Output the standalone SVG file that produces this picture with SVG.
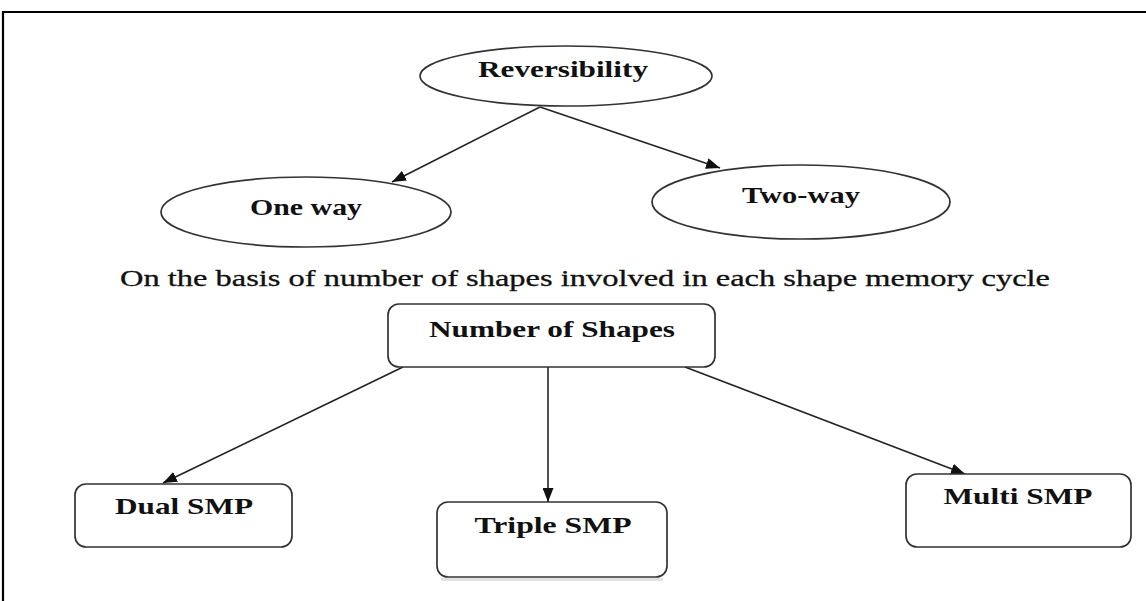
<svg xmlns="http://www.w3.org/2000/svg" width="1146" height="601" viewBox="0 0 1146 601">
  <style>
    .node { fill: #fff; stroke: #333; stroke-width: 1.7; }
    .shadow { fill: none; stroke: #e2e2e2; stroke-width: 2; }
    .lbl { font-family: "Liberation Serif", "Times New Roman", serif; font-weight: bold; font-size: 23px; fill: #111; text-anchor: middle; }
    .sub { font-family: "Liberation Serif", "Times New Roman", serif; font-size: 23px; fill: #111; stroke: #111; stroke-width: 0.3; }
    .conn { stroke: #222; stroke-width: 1.6; fill: none; marker-end: url(#arrow); }
  </style>
  <defs>
    <marker id="arrow" viewBox="0 0 14 11" refX="14" refY="5.5" markerWidth="14" markerHeight="11" markerUnits="userSpaceOnUse" orient="auto">
      <path d="M0,0 L14,5.5 L0,11 Z" fill="#111"/>
    </marker>
  </defs>
  <rect x="0" y="0" width="1146" height="601" fill="#fff"/>
  <path d="M3,601 L3,12 L1146,12" fill="none" stroke="#000" stroke-width="2.2"/>

  <g id="connectors">
    <line class="conn" x1="540" y1="107" x2="392" y2="182"/>
    <line class="conn" x1="540" y1="107" x2="720" y2="168"/>
    <line class="conn" x1="403" y1="367" x2="163" y2="483"/>
    <line class="conn" x1="548" y1="367" x2="548" y2="502"/>
    <line class="conn" x1="685" y1="367" x2="965" y2="474"/>
  </g>

  <g id="reversibility">
    <ellipse class="node" cx="566" cy="76" rx="146" ry="30"/>
    <text class="lbl" x="563" y="77" textLength="170" lengthAdjust="spacingAndGlyphs">Reversibility</text>
  </g>
  <g id="one-way">
    <ellipse class="node" cx="306" cy="212" rx="145" ry="35"/>
    <text class="lbl" x="306" y="215" textLength="112" lengthAdjust="spacingAndGlyphs">One way</text>
  </g>
  <g id="two-way">
    <ellipse class="node" cx="801" cy="202" rx="149" ry="37"/>
    <text class="lbl" x="801" y="203" textLength="118" lengthAdjust="spacingAndGlyphs">Two-way</text>
  </g>

  <text id="subtitle" class="sub" x="120" y="286" textLength="930" lengthAdjust="spacingAndGlyphs">On the basis of number of shapes involved in each shape memory cycle</text>

  <g id="number-of-shapes">
    <rect class="node" x="388" y="304" width="327" height="63" rx="11"/>
    <text class="lbl" x="552" y="337" textLength="246" lengthAdjust="spacingAndGlyphs">Number of Shapes</text>
  </g>
  <g id="dual-smp">
    <rect class="node" x="75" y="484" width="217" height="63" rx="11"/>
    <text class="lbl" x="184" y="514" textLength="138" lengthAdjust="spacingAndGlyphs">Dual SMP</text>
  </g>
  <g id="triple-smp">
    <rect class="shadow" x="442" y="579" width="220" height="1"/>
    <rect class="node" x="437" y="502" width="230" height="75" rx="11"/>
    <text class="lbl" x="553" y="533" textLength="157" lengthAdjust="spacingAndGlyphs">Triple SMP</text>
  </g>
  <g id="multi-smp">
    <rect class="node" x="906" y="474" width="225" height="73" rx="11"/>
    <text class="lbl" x="1018" y="504" textLength="149" lengthAdjust="spacingAndGlyphs">Multi SMP</text>
  </g>
</svg>
